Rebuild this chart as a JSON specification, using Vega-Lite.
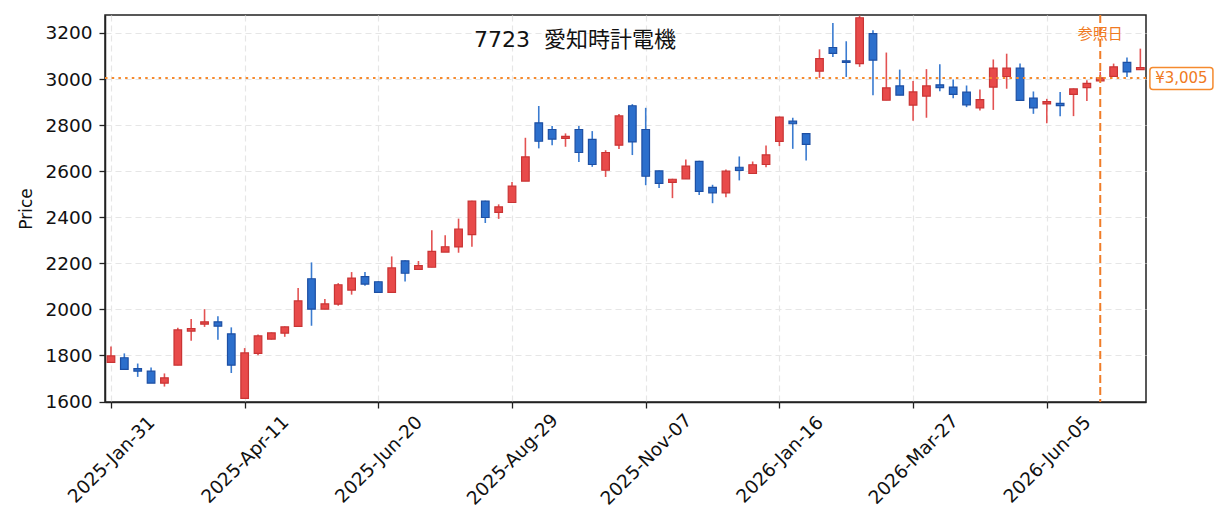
{
  "$schema": "https://vega.github.io/schema/vega-lite/v6.json",
  "description": "7723 weekly candlesticks",
  "width": 1041,
  "height": 387,
  "autosize": "none",
  "padding": {"left": 105, "top": 15, "right": 79, "bottom": 130},
  "background": "white",
  "config": {
    "view": {"stroke": "#222", "strokeWidth": 1.5},
    "font": "DejaVu Sans"
  },
  "data": {
    "values": [
      {"date": "2025-01-31", "open": 1770, "high": 1839, "low": 1768, "close": 1798},
      {"date": "2025-02-07", "open": 1790, "high": 1809, "low": 1740, "close": 1740},
      {"date": "2025-02-14", "open": 1743, "high": 1765, "low": 1707, "close": 1732},
      {"date": "2025-02-21", "open": 1732, "high": 1748, "low": 1680, "close": 1680},
      {"date": "2025-02-28", "open": 1680, "high": 1722, "low": 1665, "close": 1703},
      {"date": "2025-03-07", "open": 1758, "high": 1920, "low": 1758, "close": 1911},
      {"date": "2025-03-14", "open": 1906, "high": 1958, "low": 1864, "close": 1917},
      {"date": "2025-03-21", "open": 1936, "high": 2001, "low": 1924, "close": 1946},
      {"date": "2025-03-28", "open": 1946, "high": 1970, "low": 1868, "close": 1927},
      {"date": "2025-04-04", "open": 1894, "high": 1922, "low": 1724, "close": 1758},
      {"date": "2025-04-11", "open": 1614, "high": 1832, "low": 1614, "close": 1811},
      {"date": "2025-04-18", "open": 1809, "high": 1891, "low": 1801, "close": 1885},
      {"date": "2025-04-25", "open": 1871, "high": 1900, "low": 1869, "close": 1898},
      {"date": "2025-05-02", "open": 1897, "high": 1926, "low": 1881, "close": 1924},
      {"date": "2025-05-09", "open": 1926, "high": 2093, "low": 1926, "close": 2037},
      {"date": "2025-05-16", "open": 2133, "high": 2204, "low": 1929, "close": 2001},
      {"date": "2025-05-23", "open": 2001, "high": 2045, "low": 2001, "close": 2024},
      {"date": "2025-05-30", "open": 2023, "high": 2114, "low": 2016, "close": 2107},
      {"date": "2025-06-06", "open": 2084, "high": 2162, "low": 2064, "close": 2136},
      {"date": "2025-06-13", "open": 2142, "high": 2162, "low": 2103, "close": 2110},
      {"date": "2025-06-20", "open": 2120, "high": 2122, "low": 2072, "close": 2074},
      {"date": "2025-06-27", "open": 2074, "high": 2230, "low": 2074, "close": 2180},
      {"date": "2025-07-04", "open": 2211, "high": 2213, "low": 2121, "close": 2157},
      {"date": "2025-07-11", "open": 2174, "high": 2210, "low": 2174, "close": 2190},
      {"date": "2025-07-18", "open": 2183, "high": 2344, "low": 2183, "close": 2252},
      {"date": "2025-07-25", "open": 2249, "high": 2322, "low": 2249, "close": 2272},
      {"date": "2025-08-01", "open": 2271, "high": 2394, "low": 2246, "close": 2349},
      {"date": "2025-08-08", "open": 2325, "high": 2472, "low": 2272, "close": 2470},
      {"date": "2025-08-15", "open": 2470, "high": 2472, "low": 2375, "close": 2399},
      {"date": "2025-08-22", "open": 2421, "high": 2456, "low": 2393, "close": 2445},
      {"date": "2025-08-29", "open": 2464, "high": 2553, "low": 2464, "close": 2535},
      {"date": "2025-09-05", "open": 2557, "high": 2745, "low": 2557, "close": 2662},
      {"date": "2025-09-12", "open": 2810, "high": 2883, "low": 2699, "close": 2730},
      {"date": "2025-09-19", "open": 2781, "high": 2796, "low": 2713, "close": 2739},
      {"date": "2025-09-26", "open": 2742, "high": 2764, "low": 2706, "close": 2751},
      {"date": "2025-10-03", "open": 2781, "high": 2796, "low": 2640, "close": 2681},
      {"date": "2025-10-10", "open": 2738, "high": 2774, "low": 2619, "close": 2629},
      {"date": "2025-10-17", "open": 2604, "high": 2691, "low": 2575, "close": 2681},
      {"date": "2025-10-24", "open": 2713, "high": 2848, "low": 2696, "close": 2840},
      {"date": "2025-10-31", "open": 2884, "high": 2891, "low": 2670, "close": 2727},
      {"date": "2025-11-07", "open": 2781, "high": 2875, "low": 2539, "close": 2578},
      {"date": "2025-11-14", "open": 2601, "high": 2603, "low": 2527, "close": 2547},
      {"date": "2025-11-21", "open": 2551, "high": 2567, "low": 2483, "close": 2565},
      {"date": "2025-11-28", "open": 2567, "high": 2651, "low": 2567, "close": 2622},
      {"date": "2025-12-05", "open": 2643, "high": 2645, "low": 2497, "close": 2512},
      {"date": "2025-12-12", "open": 2530, "high": 2541, "low": 2461, "close": 2506},
      {"date": "2025-12-19", "open": 2506, "high": 2607, "low": 2487, "close": 2600},
      {"date": "2025-12-26", "open": 2617, "high": 2664, "low": 2560, "close": 2603},
      {"date": "2026-01-02", "open": 2590, "high": 2642, "low": 2590, "close": 2628},
      {"date": "2026-01-09", "open": 2629, "high": 2712, "low": 2617, "close": 2671},
      {"date": "2026-01-16", "open": 2729, "high": 2837, "low": 2709, "close": 2835},
      {"date": "2026-01-23", "open": 2817, "high": 2832, "low": 2697, "close": 2806},
      {"date": "2026-01-30", "open": 2763, "high": 2765, "low": 2646, "close": 2716},
      {"date": "2026-02-06", "open": 3034, "high": 3129, "low": 3005, "close": 3089},
      {"date": "2026-02-13", "open": 3137, "high": 3243, "low": 3096, "close": 3111},
      {"date": "2026-02-20", "open": 3079, "high": 3164, "low": 3009, "close": 3072},
      {"date": "2026-02-27", "open": 3067, "high": 3275, "low": 3053, "close": 3266},
      {"date": "2026-03-06", "open": 3197, "high": 3212, "low": 2930, "close": 3082},
      {"date": "2026-03-13", "open": 2908, "high": 3115, "low": 2908, "close": 2962},
      {"date": "2026-03-20", "open": 2970, "high": 3041, "low": 2930, "close": 2930},
      {"date": "2026-03-27", "open": 2887, "high": 2991, "low": 2819, "close": 2944},
      {"date": "2026-04-03", "open": 2926, "high": 3043, "low": 2832, "close": 2970},
      {"date": "2026-04-10", "open": 2975, "high": 3064, "low": 2947, "close": 2963},
      {"date": "2026-04-17", "open": 2965, "high": 2998, "low": 2917, "close": 2933},
      {"date": "2026-04-24", "open": 2943, "high": 2972, "low": 2878, "close": 2888},
      {"date": "2026-05-01", "open": 2875, "high": 2955, "low": 2863, "close": 2911},
      {"date": "2026-05-08", "open": 2965, "high": 3085, "low": 2866, "close": 3047},
      {"date": "2026-05-15", "open": 3011, "high": 3110, "low": 2958, "close": 3047},
      {"date": "2026-05-22", "open": 3047, "high": 3067, "low": 2905, "close": 2907},
      {"date": "2026-05-29", "open": 2917, "high": 2946, "low": 2849, "close": 2875},
      {"date": "2026-06-05", "open": 2892, "high": 2914, "low": 2808, "close": 2902},
      {"date": "2026-06-12", "open": 2894, "high": 2944, "low": 2839, "close": 2885},
      {"date": "2026-06-19", "open": 2933, "high": 2959, "low": 2839, "close": 2957},
      {"date": "2026-06-26", "open": 2963, "high": 2995, "low": 2905, "close": 2981},
      {"date": "2026-07-03", "open": 2992, "high": 3031, "low": 2988, "close": 3005},
      {"date": "2026-07-10", "open": 3012, "high": 3067, "low": 3010, "close": 3053},
      {"date": "2026-07-17", "open": 3072, "high": 3093, "low": 3009, "close": 3031},
      {"date": "2026-07-24", "open": 3041, "high": 3132, "low": 3041, "close": 3050}
    ]
  },
  "layer": [
    {
      "mark": {"type": "rule", "strokeWidth": 1.6},
      "encoding": {
        "x": {
          "field": "date",
          "type": "temporal",
          "scale": {
            "type": "utc",
            "padding": 0,
            "nice": false,
            "domain": [
              {"year": 2025, "month": 1, "date": 27, "hours": 21, "utc": true},
              {"year": 2026, "month": 7, "date": 26, "hours": 23, "utc": true}
            ]
          },
          "axis": {
            "title": null,
            "values": [
              {"year": 2025, "month": 1, "date": 31, "utc": true},
              {"year": 2025, "month": 4, "date": 11, "utc": true},
              {"year": 2025, "month": 6, "date": 20, "utc": true},
              {"year": 2025, "month": 8, "date": 29, "utc": true},
              {"year": 2025, "month": 11, "date": 7, "utc": true},
              {"year": 2026, "month": 1, "date": 16, "utc": true},
              {"year": 2026, "month": 3, "date": 27, "utc": true},
              {"year": 2026, "month": 6, "date": 5, "utc": true}
            ],
            "format": "%Y-%b-%d",
            "labelAngle": -45,
            "labelAlign": "center",
            "labelBaseline": "middle",
            "labelPadding": 51,
            "labelFontSize": 18.5,
            "labelColor": "#111",
            "labelFlush": false,
            "labelOverlap": false,
            "tickSize": 6,
            "tickWidth": 1.3,
            "tickColor": "#222",
            "domainColor": "#222",
            "domainWidth": 1.5,
            "grid": true,
            "gridColor": "#e6e6e6",
            "gridDash": [6, 4],
            "gridWidth": 1.2
          }
        },
        "y": {
          "field": "low",
          "type": "quantitative",
          "scale": {"domain": [1598, 3278], "nice": false, "zero": false},
          "axis": {
            "title": "Price",
            "titleFontSize": 17,
            "titleFontWeight": "normal",
            "titleColor": "#111",
            "titlePadding": 9,
            "values": [1600, 1800, 2000, 2200, 2400, 2600, 2800, 3000, 3200],
            "format": "d",
            "labelFontSize": 18.5,
            "labelColor": "#111",
            "labelPadding": 7,
            "tickSize": 6,
            "tickWidth": 1.3,
            "tickColor": "#222",
            "domainColor": "#222",
            "domainWidth": 1.5,
            "grid": true,
            "gridColor": "#e6e6e6",
            "gridOpacity": {"condition": {"test": "datum.value <= 1600", "value": 0}, "value": 1},
            "gridDash": [6, 4],
            "gridWidth": 1.2
          }
        },
        "y2": {"field": "high"},
        "color": {
          "condition": {"test": "datum.close >= datum.open", "value": "#e35252"},
          "value": "#3a7bd0"
        }
      }
    },
    {
      "mark": {"type": "bar", "width": 7.6, "strokeWidth": 1.2},
      "encoding": {
        "x": {"field": "date", "type": "temporal"},
        "y": {"field": "open", "type": "quantitative"},
        "y2": {"field": "close"},
        "fill": {
          "condition": {"test": "datum.close >= datum.open", "value": "#e84a4a"},
          "value": "#2c6fcc"
        },
        "stroke": {
          "condition": {"test": "datum.close >= datum.open", "value": "#c93434"},
          "value": "#1d4fa3"
        }
      }
    },
    {
      "data": {"values": [{}]},
      "mark": {"type": "rule", "color": "#f58a2e", "strokeWidth": 2, "strokeDash": [2.5, 4.2]},
      "encoding": {"y": {"datum": 3005}}
    },
    {
      "data": {"values": [{}]},
      "mark": {"type": "rule", "color": "#f07d28", "strokeWidth": 2, "strokeDash": [8, 4]},
      "encoding": {"x": {"datum": {"year": 2026, "month": 7, "date": 3, "utc": true}}}
    },
    {
      "data": {"values": [{}]},
      "mark": {"type": "text", "text": "参照日", "font": "Noto Sans CJK JP", "fontSize": 15, "color": "#f07a22", "align": "center", "baseline": "middle"},
      "encoding": {
        "x": {"datum": {"year": 2026, "month": 7, "date": 3, "utc": true}},
        "y": {"datum": 3196}
      }
    },
    {
      "data": {"values": [{}]},
      "mark": {"type": "rect", "fill": "white", "stroke": "#f58a2e", "strokeWidth": 1.5, "cornerRadius": 3},
      "encoding": {
        "x": {"datum": {"year": 2026, "month": 7, "date": 29, "utc": true}},
        "x2": {"datum": {"year": 2026, "month": 8, "date": 31, "utc": true}},
        "y": {"datum": 2955},
        "y2": {"datum": 3050}
      }
    },
    {
      "data": {"values": [{}]},
      "mark": {"type": "text", "text": "¥3,005", "fontSize": 15, "color": "#f07a22", "align": "center", "baseline": "middle"},
      "encoding": {
        "x": {"datum": {"year": 2026, "month": 8, "date": 14, "hours": 12, "utc": true}},
        "y": {"datum": 3003}
      }
    },
    {
      "data": {"values": [{}]},
      "mark": {"type": "text", "text": "7723 \u00a0愛知時計電機", "font": "DejaVu Sans, Noto Sans CJK JP", "fontSize": 22, "color": "#111", "align": "center", "baseline": "middle"},
      "encoding": {
        "x": {"datum": {"year": 2025, "month": 10, "date": 1, "utc": true}},
        "y": {"datum": 3168}
      }
    }
  ]
}
